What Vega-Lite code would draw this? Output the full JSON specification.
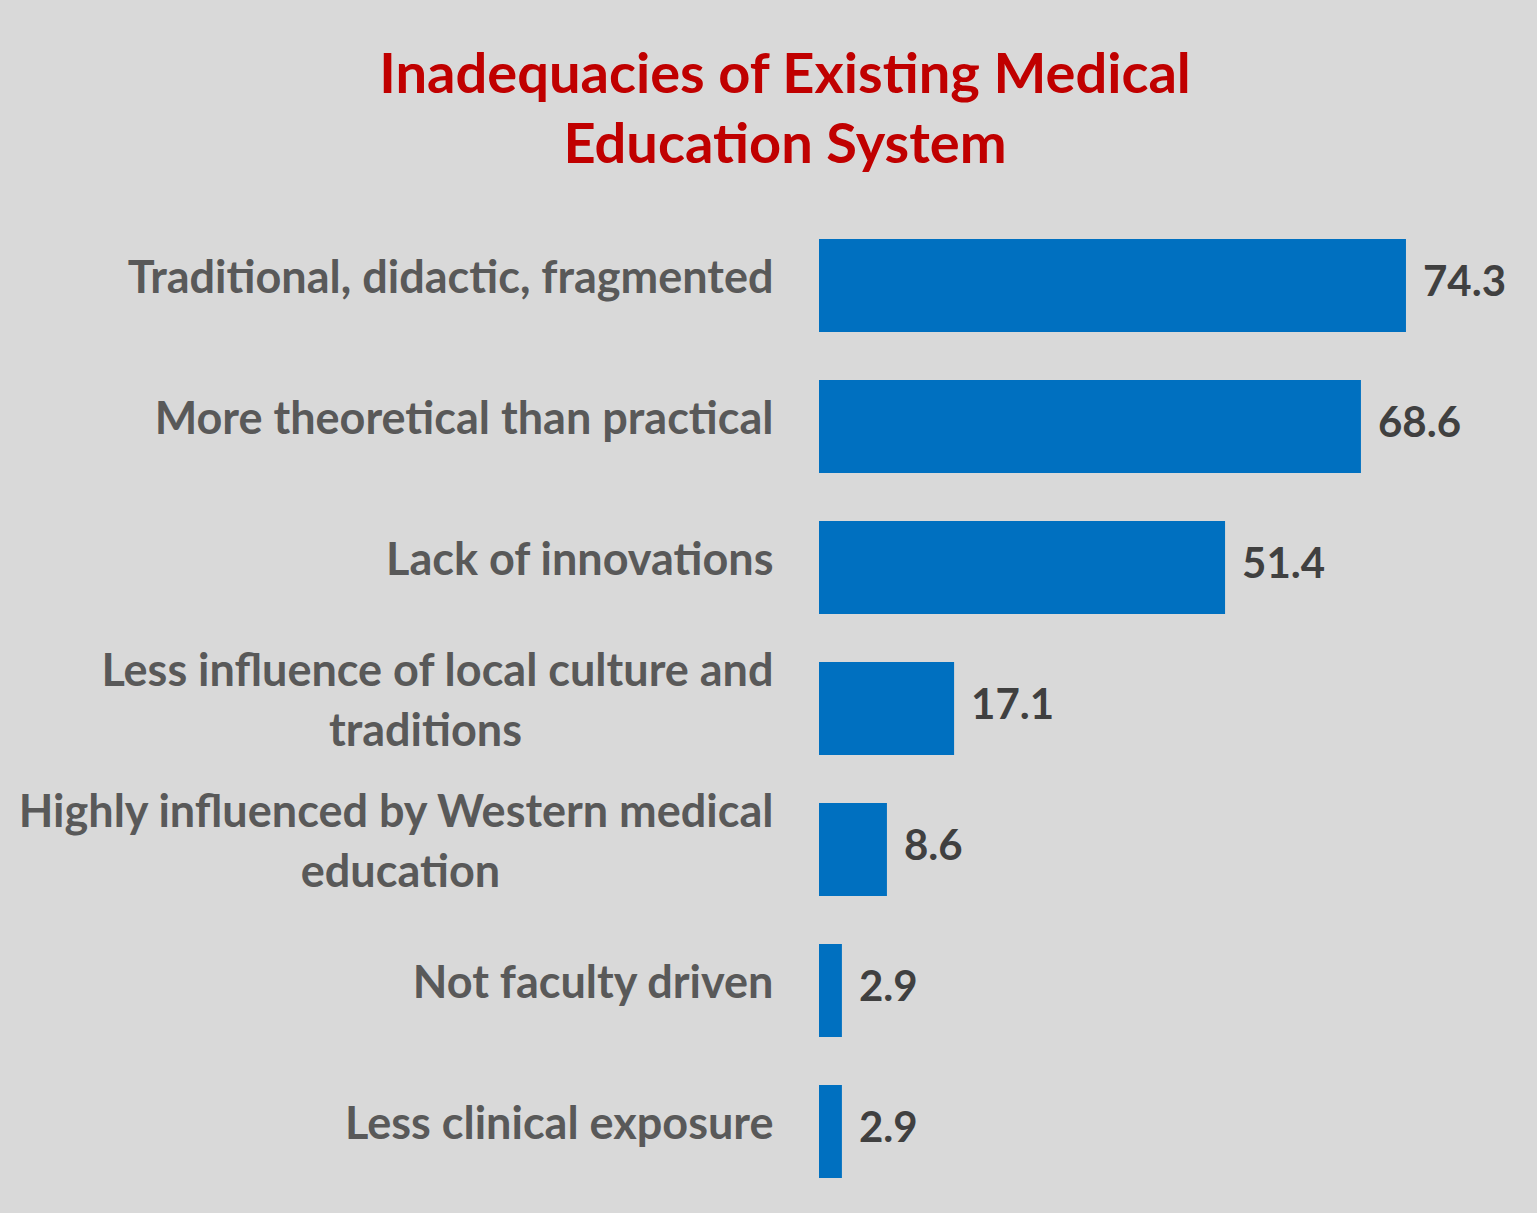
{
  "$schema": "https://vega.github.io/schema/vega-lite/v6.json",
  "width": 632,
  "height": 987,
  "autosize": {"type": "none"},
  "padding": {"left": 819, "top": 215, "right": 86, "bottom": 11},
  "background": "#d9d9d9",
  "title": {
    "text": ["Inadequacies of Existing Medical", "Education System"],
    "color": "#C00000",
    "font": "Lato",
    "fontSize": 56,
    "fontWeight": "bold",
    "anchor": "start",
    "frame": "group",
    "align": "center",
    "dx": -34,
    "lineHeight": 70,
    "offset": 40
  },
  "config": {"view": {"stroke": null}},
  "data": {
    "values": [
      {"category": "Traditional, didactic, fragmented", "value": 74.3},
      {"category": "More theoretical than practical", "value": 68.6},
      {"category": "Lack of innovations", "value": 51.4},
      {"category": "Less influence of local culture and\ntraditions", "value": 17.1},
      {"category": "Highly influenced by Western medical\neducation", "value": 8.6},
      {"category": "Not faculty driven", "value": 2.9},
      {"category": "Less clinical exposure", "value": 2.9}
    ]
  },
  "encoding": {
    "y": {
      "field": "category",
      "type": "nominal",
      "sort": null,
      "scale": {"paddingInner": 0.34, "paddingOuter": 0.17},
      "axis": {
        "title": null,
        "ticks": false,
        "domain": false,
        "labelPadding": 46,
        "labelOffset": {
          "condition": {"test": "indexof(datum.label, '\\n') >= 0", "value": -37},
          "value": -7
        },
        "labelFont": "Lato",
        "labelFontSize": 45,
        "labelFontWeight": "bold",
        "labelColor": "#595959",
        "labelLimit": 900,
        "labelLineHeight": 60,
        "labelAlign": "right",
        "labelExpr": "length(split(datum.label, '\\n')) > 1 ? [split(datum.label, '\\n')[0], pad(split(datum.label, '\\n')[1], length(split(datum.label, '\\n')[1]) + round(0.92 * (length(split(datum.label, '\\n')[0]) - length(split(datum.label, '\\n')[1]))), '\u00a0') + '\u200b'] : datum.label"
      }
    },
    "x": {
      "field": "value",
      "type": "quantitative",
      "scale": {"domain": [0, 80]},
      "axis": null
    }
  },
  "layer": [
    {"mark": {"type": "bar", "color": "#0070C0"}},
    {
      "mark": {
        "type": "text",
        "align": "left",
        "baseline": "middle",
        "dx": 17,
        "dy": -3,
        "font": "Lato",
        "fontSize": 42,
        "fontWeight": "bold",
        "color": "#404040"
      },
      "encoding": {"text": {"field": "value", "type": "quantitative", "format": ".1f"}}
    }
  ]
}
